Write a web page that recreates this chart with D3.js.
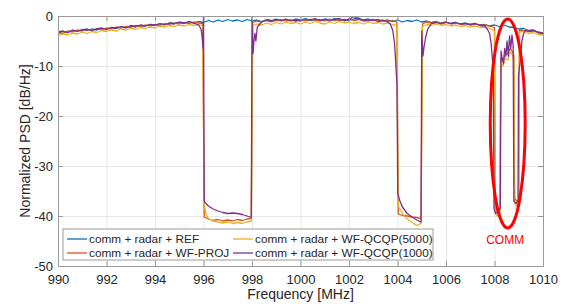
<!DOCTYPE html>
<html>
<head>
<meta charset="utf-8">
<script src="https://cdn.jsdelivr.net/npm/d3@7"></script>
<style>
    body { margin: 0; background: #fff; }
    svg { display: block; font-family: "Liberation Sans", Arial, sans-serif; }
</style>
</head>
<body>
<div id="chart"></div>
<script>
"use strict";

// Normalized PSD traces, [frequency MHz, dB/Hz]
const refPsd = [
    [990.0, -3.4], [990.2, -3.1], [990.4, -3.3], [990.6, -2.9], [990.8, -3.0], [991.0, -2.7], [991.2, -2.9], [991.4, -2.6],
    [991.6, -2.8], [991.8, -2.5], [992.0, -2.6], [992.2, -2.3], [992.4, -2.5], [992.6, -2.2], [992.8, -2.3], [993.0, -2.0],
    [993.2, -2.2], [993.4, -1.9], [993.6, -2.0], [993.8, -1.7], [994.0, -1.9], [994.2, -1.6], [994.4, -1.7], [994.6, -1.4],
    [994.8, -1.6], [995.0, -1.3], [995.2, -1.5], [995.4, -1.2], [995.6, -1.4], [995.8, -1.1], [996.0, -1.3], [996.2, -0.9],
    [996.4, -1.2], [996.6, -0.8], [996.8, -1.1], [997.0, -0.7], [997.2, -1.0], [997.4, -0.8], [997.6, -1.1], [997.8, -0.7],
    [998.0, -1.0], [998.2, -0.8], [998.4, -1.1], [998.6, -0.7], [998.8, -0.9], [999.0, -0.6], [999.2, -0.9], [999.4, -0.7],
    [999.6, -1.0], [999.8, -0.6], [1000.0, -0.8], [1000.2, -0.5], [1000.4, -0.9], [1000.6, -0.7], [1000.8, -1.0], [1001.0, -0.6],
    [1001.2, -0.8], [1001.4, -0.5], [1001.6, -0.9], [1001.8, -0.7], [1002.0, -0.9], [1002.2, -0.6], [1002.4, -0.4], [1002.6, -0.8],
    [1002.8, -0.6], [1003.0, -0.9], [1003.2, -0.7], [1003.4, -1.0], [1003.6, -0.8], [1003.8, -1.1], [1004.0, -0.8], [1004.2, -1.2],
    [1004.4, -0.9], [1004.6, -1.1], [1004.8, -0.8], [1005.0, -1.2], [1005.2, -1.0], [1005.4, -1.3], [1005.6, -1.1], [1005.8, -1.4],
    [1006.0, -1.2], [1006.2, -1.5], [1006.4, -1.3], [1006.6, -1.6], [1006.8, -1.4], [1007.0, -1.7], [1007.2, -1.5], [1007.4, -1.8],
    [1007.6, -1.7], [1007.8, -2.0], [1008.0, -1.8], [1008.2, -2.1], [1008.4, -1.8], [1008.6, -2.2], [1008.8, -2.3], [1009.0, -2.6],
    [1009.2, -2.5], [1009.4, -2.9], [1009.6, -2.8], [1009.8, -3.2], [1010.0, -3.4]
];

const wfProjPsd = [
    [990.0, -3.3], [990.2, -3.5], [990.4, -3.0], [990.6, -3.2], [990.8, -2.8], [991.0, -3.0], [991.2, -2.7], [991.4, -2.9],
    [991.6, -2.5], [991.8, -2.7], [992.0, -2.4], [992.2, -2.6], [992.4, -2.2], [992.6, -2.4], [992.8, -2.1], [993.0, -2.3],
    [993.2, -1.9], [993.4, -2.1], [993.6, -1.8], [993.8, -2.0], [994.0, -1.7], [994.2, -1.9], [994.4, -1.5], [994.6, -1.7],
    [994.8, -1.4], [995.0, -1.6], [995.2, -1.3], [995.4, -1.5], [995.6, -1.2], [995.8, -1.4], [995.97, -1.5],
    [996.03, -40.2], [996.2, -40.6], [996.4, -40.9], [996.6, -40.7], [996.8, -41.0], [997.0, -40.8], [997.2, -41.0],
    [997.4, -40.7], [997.6, -40.9], [997.8, -40.6], [997.97, -40.5],
    [998.03, -1.3], [998.2, -1.0], [998.4, -1.2], [998.6, -0.8], [998.8, -1.1], [999.0, -0.9], [999.2, -0.7], [999.4, -1.0],
    [999.6, -0.8], [999.8, -1.1], [1000.0, -0.7], [1000.2, -1.0], [1000.4, -0.6], [1000.6, -0.9], [1000.8, -0.7], [1001.0, -1.0],
    [1001.2, -0.6], [1001.4, -0.9], [1001.6, -0.7], [1001.8, -1.0], [1002.0, -0.6], [1002.2, -0.9], [1002.4, -0.7], [1002.6, -1.0],
    [1002.8, -0.8], [1003.0, -0.7], [1003.2, -1.0], [1003.4, -0.8], [1003.6, -1.1], [1003.8, -0.9], [1003.97, -1.2],
    [1004.03, -39.6], [1004.2, -39.9], [1004.4, -40.0], [1004.6, -40.2], [1004.8, -40.3], [1004.97, -40.5],
    [1005.03, -1.6], [1005.2, -1.2], [1005.4, -1.4], [1005.6, -1.2], [1005.8, -1.5], [1006.0, -1.3], [1006.2, -1.6], [1006.4, -1.4],
    [1006.6, -1.7], [1006.8, -1.5], [1007.0, -1.8], [1007.2, -1.6], [1007.4, -1.9], [1007.6, -1.8], [1007.8, -2.0], [1008.0, -2.3],
    [1008.03, -38.5], [1008.12, -39.0], [1008.22, -38.8], [1008.26, -8.5], [1008.35, -9.0], [1008.45, -7.8], [1008.55, -7.5],
    [1008.65, -6.5], [1008.75, -7.2], [1008.8, -8.0], [1008.83, -36.5], [1008.92, -37.0], [1009.0, -36.8],
    [1009.03, -2.8], [1009.2, -2.9], [1009.4, -3.1], [1009.6, -3.0], [1009.8, -3.3], [1010.0, -3.5]
];

const qcqp5000Psd = [
    [990.0, -3.9], [990.2, -3.6], [990.4, -3.8], [990.6, -3.4], [990.8, -3.6], [991.0, -3.2], [991.2, -3.5], [991.4, -3.1],
    [991.6, -3.3], [991.8, -2.9], [992.0, -3.1], [992.2, -2.8], [992.4, -3.0], [992.6, -2.6], [992.8, -2.8], [993.0, -2.5],
    [993.2, -2.7], [993.4, -2.3], [993.6, -2.5], [993.8, -2.2], [994.0, -2.4], [994.2, -2.0], [994.4, -2.2], [994.6, -1.9],
    [994.8, -2.1], [995.0, -1.8], [995.2, -2.0], [995.4, -1.7], [995.6, -1.9], [995.8, -1.7], [995.97, -2.0],
    [996.03, -37.8], [996.1, -39.5], [996.2, -40.5], [996.4, -41.0], [996.6, -41.2], [996.8, -41.4], [997.0, -41.2],
    [997.2, -41.5], [997.4, -41.3], [997.6, -41.5], [997.8, -41.2], [997.97, -41.0],
    [998.03, -1.9], [998.2, -1.6], [998.4, -1.8], [998.6, -1.4], [998.8, -1.7], [999.0, -1.3], [999.2, -1.6], [999.4, -1.2],
    [999.6, -1.5], [999.8, -1.3], [1000.0, -1.6], [1000.2, -1.2], [1000.4, -1.5], [1000.6, -1.1], [1000.8, -1.4], [1001.0, -1.6],
    [1001.2, -1.2], [1001.4, -1.5], [1001.6, -1.1], [1001.8, -1.4], [1002.0, -1.2], [1002.2, -1.5], [1002.4, -1.3], [1002.6, -1.6],
    [1002.8, -1.2], [1003.0, -1.5], [1003.2, -1.3], [1003.4, -1.6], [1003.6, -1.4], [1003.8, -1.7], [1003.97, -1.9],
    [1004.03, -38.0], [1004.2, -39.5], [1004.4, -40.6], [1004.6, -41.3], [1004.8, -41.9], [1004.97, -41.5],
    [1005.03, -2.1], [1005.2, -1.7], [1005.4, -1.9], [1005.6, -1.6], [1005.8, -1.9], [1006.0, -1.7], [1006.2, -2.0], [1006.4, -1.8],
    [1006.6, -2.1], [1006.8, -1.9], [1007.0, -2.2], [1007.2, -2.0], [1007.4, -2.3], [1007.6, -2.2], [1007.8, -2.5], [1008.0, -3.0],
    [1008.03, -39.5], [1008.12, -40.0], [1008.22, -39.5], [1008.26, -9.5], [1008.35, -10.0], [1008.45, -8.5], [1008.55, -8.8],
    [1008.65, -7.0], [1008.75, -8.0], [1008.8, -9.0], [1008.83, -37.5], [1008.92, -38.0], [1009.0, -37.5],
    [1009.03, -3.2], [1009.2, -3.1], [1009.4, -3.5], [1009.6, -3.3], [1009.8, -3.7], [1010.0, -3.8]
];

const qcqp1000Psd = [
    [990.0, -3.2], [990.2, -3.0], [990.4, -3.3], [990.6, -2.8], [990.8, -3.1], [991.0, -2.8], [991.2, -2.6], [991.4, -2.9],
    [991.6, -2.6], [991.8, -2.4], [992.0, -2.7], [992.2, -2.3], [992.4, -2.4], [992.6, -2.1], [992.8, -2.4], [993.0, -1.9],
    [993.2, -2.1], [993.4, -1.8], [993.6, -2.0], [993.8, -1.7], [994.0, -1.8], [994.2, -1.5], [994.4, -1.8], [994.6, -1.4],
    [994.8, -1.5], [995.0, -1.2], [995.2, -1.4], [995.4, -1.1], [995.6, -1.4], [995.8, -1.8], [995.9, -2.6], [995.95, -4.5],
    [995.98, -6.5], [996.0, -0.3],
    [996.03, -37.0], [996.1, -37.5], [996.2, -38.0], [996.4, -38.6], [996.6, -39.0], [996.8, -39.3], [997.0, -39.5],
    [997.2, -39.4], [997.4, -39.5], [997.6, -39.7], [997.8, -40.0], [997.97, -40.3],
    [998.0, -0.4], [998.04, -7.5], [998.08, -5.0], [998.12, -3.5], [998.16, -5.0], [998.22, -2.2], [998.4, -1.2], [998.6, -0.9],
    [998.8, -1.1], [999.0, -0.7], [999.2, -1.0], [999.4, -0.6], [999.6, -0.9], [999.8, -0.8], [1000.0, -1.0], [1000.2, -0.7],
    [1000.4, -0.8], [1000.6, -0.5], [1000.8, -0.9], [1001.0, -0.7], [1001.2, -1.0], [1001.4, -0.7], [1001.6, -0.5], [1001.8, -0.9],
    [1002.0, -0.7], [1002.2, -0.1], [1002.4, -0.6], [1002.6, -0.9], [1002.8, -0.9], [1003.0, -0.8], [1003.2, -1.1], [1003.4, -0.9],
    [1003.6, -1.2], [1003.7, -1.6], [1003.8, -2.8], [1003.88, -5.5], [1003.94, -10.5], [1003.98, -14.0],
    [1004.01, -35.5], [1004.1, -37.0], [1004.2, -38.2], [1004.4, -39.5], [1004.6, -40.2], [1004.8, -40.8], [1004.97, -41.2],
    [1005.0, -3.0], [1005.05, -8.0], [1005.1, -6.0], [1005.15, -4.5], [1005.25, -2.6], [1005.4, -1.5], [1005.6, -1.3],
    [1005.8, -1.6], [1006.0, -1.2], [1006.2, -1.5], [1006.4, -1.3], [1006.6, -1.6], [1006.8, -1.5], [1007.0, -1.7],
    [1007.2, -1.5], [1007.4, -1.9], [1007.6, -2.0], [1007.7, -2.6], [1007.8, -3.5], [1007.86, -5.5], [1007.92, -9.0],
    [1007.95, -11.0], [1007.98, -38.5], [1008.05, -39.5], [1008.15, -39.0], [1008.24, -38.5],
    [1008.27, -7.0], [1008.32, -8.5], [1008.37, -9.5], [1008.42, -6.5], [1008.47, -8.0], [1008.52, -5.0], [1008.57, -8.0],
    [1008.62, -4.0], [1008.67, -6.5], [1008.72, -3.8], [1008.77, -6.0], [1008.8, -37.0], [1008.9, -37.5], [1008.97, -37.0],
    [1008.99, -12.0], [1009.06, -9.0], [1009.13, -5.0], [1009.2, -3.5], [1009.3, -2.8], [1009.4, -3.0], [1009.6, -2.9],
    [1009.8, -3.3], [1010.0, -3.5]
];

const seriesNames = [
    "comm + radar + REF",
    "comm + radar + WF-PROJ",
    "comm + radar + WF-QCQP(5000)",
    "comm + radar + WF-QCQP(1000)"
];
const seriesData = [refPsd, wfProjPsd, qcqp5000Psd, qcqp1000Psd];
const seriesColors = ["#0072BD", "#D95319", "#EDB120", "#7E2F8E"];

const xTicks = [990, 992, 994, 996, 998, 1000, 1002, 1004, 1006, 1008, 1010];
const yTicks = [0, -10, -20, -30, -40, -50];

// Highlighted communication band: centre [MHz, dB] and half extents
const commBand = { f: 1008.545, psd: -21.5, halfWidth: 0.72, halfHeight: 20.9, label: "COMM" };

const WIDTH = 574;
const HEIGHT = 304;
const MARGIN = { top: 16, right: 31, bottom: 38, left: 58 };
const AXIS_COLOR = "#9a9a9a";
const TEXT_COLOR = "#262626";

render(document.getElementById("chart"));

function render(container) {
    const innerWidth = WIDTH - MARGIN.left - MARGIN.right;
    const innerHeight = HEIGHT - MARGIN.top - MARGIN.bottom;

    const svg = d3.select(container)
        .append("svg")
        .attr("width", WIDTH)
        .attr("height", HEIGHT);

    svg.append("rect")
        .attr("width", WIDTH)
        .attr("height", HEIGHT)
        .attr("fill", "white");

    const x = d3.scaleLinear().domain([990, 1010]).range([0, innerWidth]);
    const y = d3.scaleLinear().domain([-50, 0]).range([innerHeight, 0]);

    const plot = svg.append("g")
        .attr("transform", `translate(${MARGIN.left},${MARGIN.top})`);

    renderGrid(plot, x, y, innerWidth, innerHeight);
    renderTraces(plot, x, y, innerWidth, innerHeight);
    renderAxes(plot, x, y, innerWidth, innerHeight);
    renderCommMarker(plot, x, y);
    renderLegend(plot);

    // Axis titles
    svg.append("text")
        .attr("x", MARGIN.left + innerWidth / 2)
        .attr("y", 299)
        .attr("text-anchor", "middle")
        .attr("font-size", 14)
        .attr("fill", TEXT_COLOR)
        .text("Frequency [MHz]");

    svg.append("text")
        .attr("transform", `translate(30,${MARGIN.top + innerHeight / 2}) rotate(-90)`)
        .attr("text-anchor", "middle")
        .attr("font-size", 14)
        .attr("fill", TEXT_COLOR)
        .text("Normalized PSD [dB/Hz]");
}

function renderGrid(plot, x, y, innerWidth, innerHeight) {
    const grid = plot.append("g").classed("grid", true);

    grid.append("g")
        .call(d3.axisBottom(x).tickValues(xTicks).tickSize(innerHeight).tickFormat(""));

    grid.append("g")
        .call(d3.axisLeft(y).tickValues(yTicks).tickSize(-innerWidth).tickFormat(""));

    grid.selectAll(".domain").remove();
    grid.selectAll("line")
        .attr("stroke", "#e8e8e8")
        .attr("stroke-width", 1);
}

function renderTraces(plot, x, y, innerWidth, innerHeight) {
    plot.append("clipPath")
        .attr("id", "plot-clip")
        .append("rect")
        .attr("width", innerWidth)
        .attr("height", innerHeight);

    const line = d3.line()
        .x(d => x(d[0]))
        .y(d => y(d[1]));

    plot.append("g")
        .attr("clip-path", "url(#plot-clip)")
        .selectAll("path")
        .data(seriesData)
        .enter()
        .append("path")
        .attr("d", line)
        .attr("fill", "none")
        .attr("stroke", (_, i) => seriesColors[i])
        .attr("stroke-width", 1.3)
        .attr("stroke-linejoin", "round");
}

function renderAxes(plot, x, y, innerWidth, innerHeight) {
    const tick = -5;
    const plain = d => String(d);

    const bottom = plot.append("g")
        .attr("transform", `translate(0,${innerHeight})`)
        .call(d3.axisBottom(x).tickValues(xTicks).tickFormat(plain)
            .tickSizeInner(tick).tickSizeOuter(0).tickPadding(9));

    const left = plot.append("g")
        .call(d3.axisLeft(y).tickValues(yTicks).tickFormat(plain)
            .tickSizeInner(tick).tickSizeOuter(0).tickPadding(5));

    const top = plot.append("g")
        .call(d3.axisTop(x).tickValues(xTicks).tickSizeInner(tick).tickSizeOuter(0).tickFormat(""));

    const right = plot.append("g")
        .attr("transform", `translate(${innerWidth},0)`)
        .call(d3.axisRight(y).tickValues(yTicks).tickSizeInner(tick).tickSizeOuter(0).tickFormat(""));

    [bottom, left, top, right].forEach(axis => {
        axis.select(".domain").attr("stroke", AXIS_COLOR);
        axis.selectAll(".tick line").attr("stroke", AXIS_COLOR);
        axis.selectAll("text")
            .attr("fill", TEXT_COLOR)
            .attr("font-size", 13)
            .attr("font-family", "'Liberation Sans', Arial, sans-serif");
    });
}

function renderCommMarker(plot, x, y) {
    plot.append("ellipse")
        .attr("cx", x(commBand.f))
        .attr("cy", y(commBand.psd))
        .attr("rx", x(commBand.f + commBand.halfWidth) - x(commBand.f))
        .attr("ry", y(commBand.psd - commBand.halfHeight) - y(commBand.psd))
        .attr("fill", "none")
        .attr("stroke", "#ff0000")
        .attr("stroke-width", 3);

    plot.append("text")
        .attr("x", x(commBand.f) - 2.5)
        .attr("y", 227.5)
        .attr("text-anchor", "middle")
        .attr("font-size", 12)
        .attr("fill", "#ff0000")
        .text(commBand.label);
}

function renderLegend(plot) {
    const legend = plot.append("g")
        .attr("transform", "translate(5,213)");

    legend.append("rect")
        .attr("width", 370)
        .attr("height", 31)
        .attr("fill", "white")
        .attr("stroke", AXIS_COLOR)
        .attr("stroke-width", 1);

    const entries = legend.selectAll(".legend-entry")
        .data(seriesNames)
        .enter()
        .append("g")
        .classed("legend-entry", true)
        .attr("transform", (_, i) => `translate(${i < 2 ? 4 : 170},${i % 2 === 0 ? 10 : 24})`);

    entries.append("line")
        .attr("x1", 0)
        .attr("x2", 20)
        .attr("stroke", (_, i) => seriesColors[i])
        .attr("stroke-width", 1.3);

    entries.append("text")
        .attr("x", 22)
        .attr("dy", "0.35em")
        .attr("font-size", 11.8)
        .attr("fill", TEXT_COLOR)
        .text(d => d);
}
</script>
</body>
</html>
